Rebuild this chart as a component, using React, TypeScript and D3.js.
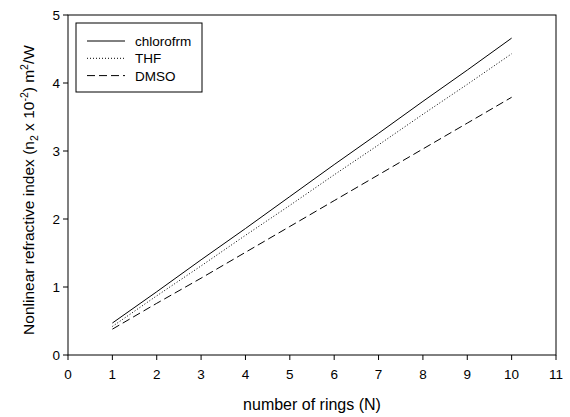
import React from "react";
import * as d3 from "d3";

const rings = [1, 2, 3, 4, 5, 6, 7, 8, 9, 10];
const chlorofrm = [0.47, 0.93, 1.4, 1.86, 2.33, 2.8, 3.26, 3.73, 4.19, 4.66];
const thf = [0.42, 0.87, 1.31, 1.76, 2.2, 2.65, 3.09, 3.54, 3.98, 4.43];
const dmso = [0.38, 0.76, 1.13, 1.51, 1.89, 2.27, 2.65, 3.03, 3.41, 3.79];
const xTicks = [0, 1, 2, 3, 4, 5, 6, 7, 8, 9, 10, 11];
const yTicks = [0, 1, 2, 3, 4, 5];

const seriesList = [
  { name: "chlorofrm", values: chlorofrm, dash: "none" },
  { name: "THF", values: thf, dash: "1 2" },
  { name: "DMSO", values: dmso, dash: "8 4" },
];

export default function App() {
  const W = 570, H = 417;
  const left = 68, right = 556, top = 15, bottom = 355;
  const x = d3.scaleLinear().domain([0, 11]).range([left, right]);
  const y = d3.scaleLinear().domain([0, 5]).range([bottom, top]);
  const font = "'Liberation Sans', Arial, sans-serif";
  const line = d3
    .line<number>()
    .x((_, i) => x(rings[i]))
    .y((d) => y(d));

  return (
    <svg
      width={W}
      height={H}
      style={{ position: "absolute", left: 0, top: 0, background: "#fff" }}
      fontFamily={font}
    >
      <rect x={left} y={top} width={right - left} height={bottom - top} fill="none" stroke="#000" strokeWidth={1} />
      {xTicks.map((t) => (
        <g key={"x" + t}>
          <line x1={x(t)} x2={x(t)} y1={bottom} y2={bottom + 5} stroke="#000" />
          <text x={x(t)} y={379} fontSize={13.5} textAnchor="middle">
            {t}
          </text>
        </g>
      ))}
      {yTicks.map((t) => (
        <g key={"y" + t}>
          <line x1={left - 5} x2={left} y1={y(t)} y2={y(t)} stroke="#000" />
          <text x={left - 8} y={y(t) + 5} fontSize={13.5} textAnchor="end">
            {t}
          </text>
        </g>
      ))}
      {seriesList.map((s) => (
        <path
          key={s.name}
          d={line(s.values) || ""}
          fill="none"
          stroke="#000"
          strokeWidth={1}
          strokeDasharray={s.dash}
        />
      ))}
      <rect x={76} y={23} width={126} height={69} fill="#fff" stroke="#000" strokeWidth={1} />
      {seriesList.map((s, i) => {
        const ly = 41 + i * 17.3;
        return (
          <g key={"leg" + s.name}>
            <line x1={87} x2={125} y1={ly} y2={ly} stroke="#000" strokeDasharray={s.dash} />
            <text x={135} y={ly + 5} fontSize={13.5}>
              {s.name}
            </text>
          </g>
        );
      })}
      <text x={(left + right) / 2} y={410} fontSize={16} textAnchor="middle">
        number of rings (N)
      </text>
      <text
        transform={`translate(34,190) rotate(-90)`}
        fontSize={15.5}
        textAnchor="middle"
      >
        Nonlinear refractive index (n
        <tspan fontSize={10.5} dy={4}>2</tspan>
        <tspan dy={-4}> x 10</tspan>
        <tspan fontSize={10.5} dy={-6}>-2</tspan>
        <tspan dy={6}>) m</tspan>
        <tspan fontSize={10.5} dy={-6}>2</tspan>
        <tspan dy={6}>/W</tspan>
      </text>
    </svg>
  );
}
